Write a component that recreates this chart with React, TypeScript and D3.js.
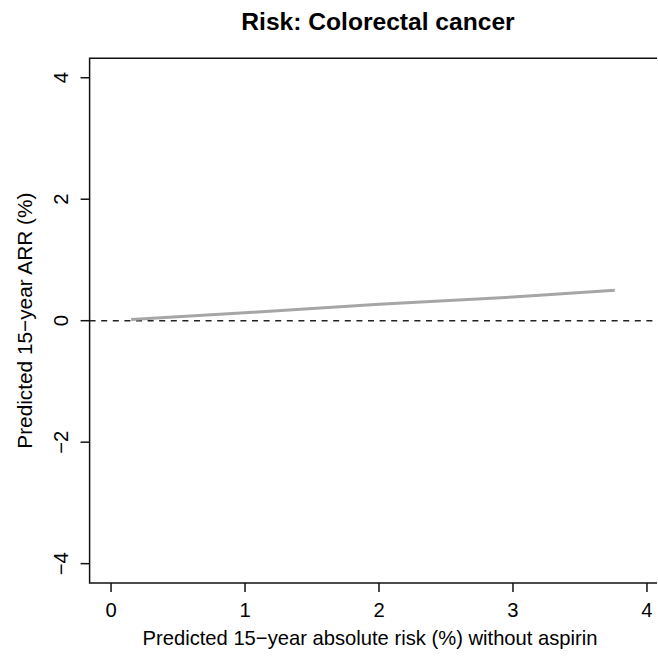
import { useEffect, useRef } from "react";
import * as d3 from "d3";

const W = 658;
const H = 661;

// Risk without aspirin (%) and predicted absolute risk reduction (%)
const riskX = [0.15, 1, 2, 3, 3.76];
const arrY = [0.02, 0.13, 0.27, 0.39, 0.5];
const xTicks = [0, 1, 2, 3, 4];
const yTicks = [-4, -2, 0, 2, 4];

const TITLE = "Risk: Colorectal cancer";
const X_LABEL = "Predicted 15\u2212year absolute risk (%) without aspirin";
const Y_LABEL = "Predicted 15\u2212year ARR (%)";

const FONT = "Liberation Sans, Arial, sans-serif";
const FS = "20.2px";

export default function App() {
  const svgRef = useRef<SVGSVGElement>(null);

  useEffect(() => {
    const svg = d3.select(svgRef.current);
    svg.selectAll("*").remove();

    svg.append("rect").attr("width", W).attr("height", H).attr("fill", "#ffffff");

    // R style 4% padding around xlim [0,4] and ylim [-4,4]
    const x = d3.scaleLinear().domain([-0.16, 4.16]).range([89.6, 668.4]);
    const y = d3.scaleLinear().domain([-4.32, 4.32]).range([583.1, 58.3]);

    const x0 = x.range()[0];
    const [y0, y1] = y.range();
    const xEnd = W - 1; // right side of the box lies outside the picture

    // Plot box: top, left and bottom sides
    svg.append("path")
      .attr("d", `M${xEnd},${y1}H${x0}V${y0}H${xEnd}`)
      .attr("fill", "none")
      .attr("stroke", "#111")
      .attr("stroke-width", 1.5);

    // Zero reference line
    svg.append("line")
      .attr("x1", x0)
      .attr("x2", xEnd)
      .attr("y1", y(0))
      .attr("y2", y(0))
      .attr("stroke", "#222")
      .attr("stroke-width", 1.5)
      .attr("stroke-dasharray", "6,5.6");

    // ARR curve
    const line = d3.line<number>()
      .x((_, i) => x(riskX[i]))
      .y((d) => y(d));
    svg.append("path")
      .attr("d", line(arrY))
      .attr("fill", "none")
      .attr("stroke", "#a6a6a6")
      .attr("stroke-width", 3);

    // X axis ticks
    xTicks.forEach((t) => {
      svg.append("line")
        .attr("x1", x(t)).attr("x2", x(t))
        .attr("y1", y0).attr("y2", y0 + 9)
        .attr("stroke", "#111").attr("stroke-width", 1.5);
      svg.append("text")
        .attr("x", x(t))
        .attr("y", 616.5)
        .attr("text-anchor", "middle")
        .attr("font-size", FS)
        .attr("font-family", FONT)
        .attr("fill", "#000")
        .text(String(t));
    });

    // Y axis ticks
    yTicks.forEach((t) => {
      svg.append("line")
        .attr("x1", x0 - 9).attr("x2", x0)
        .attr("y1", y(t)).attr("y2", y(t))
        .attr("stroke", "#111").attr("stroke-width", 1.5);
      svg.append("text")
        .attr("transform", `translate(68,${y(t)}) rotate(-90)`)
        .attr("text-anchor", "middle")
        .attr("font-size", FS)
        .attr("font-family", FONT)
        .attr("fill", "#000")
        .text(t < 0 ? `\u2212${Math.abs(t)}` : String(t));
    });

    // Title
    svg.append("text")
      .attr("x", 378)
      .attr("y", 30)
      .attr("text-anchor", "middle")
      .attr("font-size", "24.6px")
      .attr("font-weight", "bold")
      .attr("font-family", FONT)
      .attr("fill", "#000")
      .text(TITLE);

    // Axis labels
    svg.append("text")
      .attr("x", 370)
      .attr("y", 645)
      .attr("text-anchor", "middle")
      .attr("font-size", FS)
      .attr("font-family", FONT)
      .attr("fill", "#000")
      .text(X_LABEL);

    svg.append("text")
      .attr("transform", `translate(32,${y(0)}) rotate(-90)`)
      .attr("text-anchor", "middle")
      .attr("font-size", "20.8px")
      .attr("font-family", FONT)
      .attr("fill", "#000")
      .text(Y_LABEL);
  }, []);

  return (
    <svg
      ref={svgRef}
      width={W}
      height={H}
      style={{ position: "absolute", left: 0, top: 0, display: "block" }}
    />
  );
}
